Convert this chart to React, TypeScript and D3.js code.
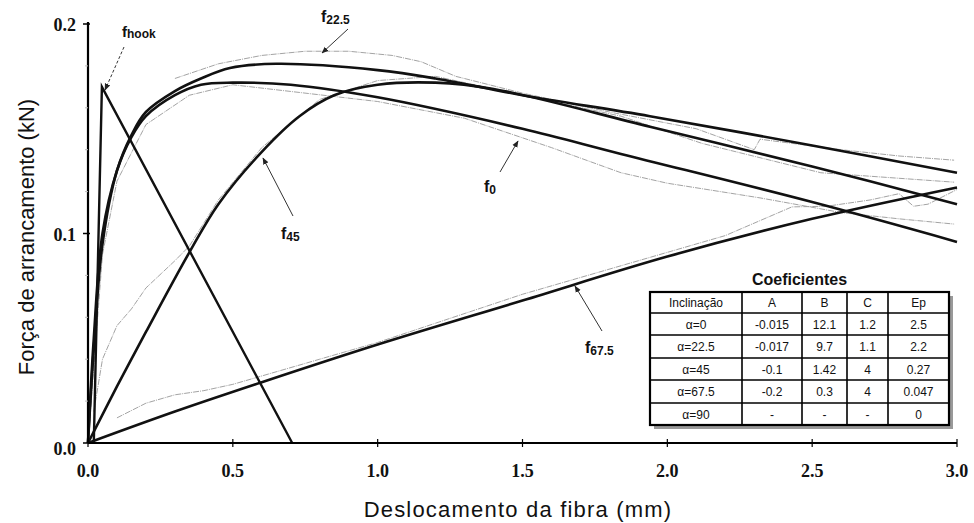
import React from "react";
import * as d3 from "d3";

const xTicks = [0, 0.5, 1.0, 1.5, 2.0, 2.5, 3.0];
const yTicks = [0, 0.1, 0.2];
const yMinorTicks = [0.02, 0.04, 0.06, 0.08, 0.12, 0.14, 0.16, 0.18];

// fitted curves [x (mm), F (kN)]
const fit0: [number, number][] = [
  [0, 0], [0.02, 0.05], [0.05, 0.1], [0.1, 0.13], [0.15, 0.146], [0.2, 0.156], [0.3, 0.166],
  [0.39, 0.171], [0.5, 0.172], [0.7, 0.171], [1.0, 0.165], [1.5, 0.15], [1.84, 0.138],
  [2.5, 0.115], [3.0, 0.096],
];
const fit225: [number, number][] = [
  [0, 0], [0.02, 0.045], [0.05, 0.095], [0.1, 0.13], [0.15, 0.147], [0.2, 0.158], [0.3, 0.168],
  [0.39, 0.174], [0.49, 0.179], [0.65, 0.181], [1.0, 0.178], [1.2, 0.174], [1.5, 0.166],
  [1.94, 0.156], [2.5, 0.142], [3.0, 0.129],
];
const fit45: [number, number][] = [
  [0, 0], [0.1, 0.027], [0.2, 0.053], [0.35, 0.091], [0.45, 0.114], [0.6, 0.139],
  [0.73, 0.156], [0.85, 0.166], [1.0, 0.171], [1.2, 0.172], [1.4, 0.169], [1.94, 0.151],
  [2.5, 0.132], [3.0, 0.114],
];
const fit675: [number, number][] = [
  [0, 0], [0.3, 0.015], [0.6, 0.029], [1.0, 0.047], [1.5, 0.068], [2.0, 0.089],
  [2.5, 0.107], [3.0, 0.122],
];
const fitHook: [number, number][] = [[0.02, 0], [0.048, 0.17], [0.705, 0]];

// experimental (thin grey) curves
const exp0: [number, number][] = [
  [0, 0], [0.05, 0.09], [0.1, 0.125], [0.2, 0.152], [0.35, 0.166], [0.5, 0.171], [1.0, 0.163],
  [1.3, 0.155], [1.45, 0.148], [1.6, 0.141], [1.84, 0.129], [2.0, 0.124], [2.32, 0.117],
  [2.6, 0.11], [2.8, 0.107], [2.99, 0.1045],
];
const exp225: [number, number][] = [
  [0.3, 0.174], [0.45, 0.181], [0.6, 0.185], [0.75, 0.187], [0.9, 0.187], [1.05, 0.185],
  [1.15, 0.182], [1.27, 0.175], [1.5, 0.167], [1.8, 0.158], [2.1, 0.15], [2.3, 0.14],
  [2.32, 0.145], [2.6, 0.14], [2.8, 0.137], [2.99, 0.135],
];
const exp45: [number, number][] = [
  [0.02, 0.015], [0.05, 0.04], [0.1, 0.056], [0.15, 0.064], [0.2, 0.074], [0.3, 0.087],
  [0.35, 0.094], [0.45, 0.116], [0.6, 0.141], [0.8, 0.164], [1.0, 0.173], [1.2, 0.175],
  [1.5, 0.166], [1.84, 0.156], [2.12, 0.143], [2.53, 0.129], [2.99, 0.1245],
];
const exp675: [number, number][] = [
  [0.1, 0.012], [0.2, 0.019], [0.3, 0.023], [0.4, 0.025], [0.5, 0.028], [0.8, 0.04],
  [1.0, 0.048], [1.5, 0.071], [2.0, 0.091], [2.2, 0.099], [2.43, 0.1127], [2.55, 0.113],
  [2.7, 0.116], [2.8, 0.119], [2.85, 0.113], [2.9, 0.114], [3.0, 0.121],
];

const tableTitle = "Coeficientes";
const tableHeader = ["Inclinação", "A", "B", "C", "Ep"];
const tableInclination = ["α=0", "α=22.5", "α=45", "α=67.5", "α=90"];
const colA = ["-0.015", "-0.017", "-0.1", "-0.2", "-"];
const colB = ["12.1", "9.7", "1.42", "0.3", "-"];
const colC = ["1.2", "1.1", "4", "4", "-"];
const colEp = ["2.5", "2.2", "0.27", "0.047", "0"];

const W = 974;
const H = 523;
const x = d3.scaleLinear().domain([0, 3]).range([88, 957]);
const y = d3.scaleLinear().domain([0, 0.2]).range([443, 24]);

const fitLine = d3.line<[number, number]>().x((d) => x(d[0])).y((d) => y(d[1])).curve(d3.curveCatmullRom.alpha(0.5));
const rawLine = d3.line<[number, number]>().x((d) => x(d[0])).y((d) => y(d[1])).curve(d3.curveLinear);

const sans = "'Liberation Sans', Arial, sans-serif";
const serif = "'Liberation Serif', 'Times New Roman', serif";

function Label({ x0, y0, sub }: { x0: number; y0: number; sub: string }) {
  return (
    <text x={x0} y={y0} fontFamily={sans} fontWeight="bold" fill="#111">
      <tspan fontSize={16}>f</tspan>
      <tspan fontSize={12} dy={2}>{sub}</tspan>
    </text>
  );
}

export default function App() {
  const colX = [650, 742, 802, 847, 888, 949];
  const rowY = [292, 313, 335, 358, 380, 403, 425];
  const cols = [tableInclination, colA, colB, colC, colEp];
  return (
    <svg width={W} height={H} style={{ display: "block", position: "absolute", left: 0, top: 0, background: "#fff" }}>
      <defs>
        <marker id="arr" viewBox="0 0 10 10" refX="9" refY="5" markerWidth="7" markerHeight="7" orient="auto">
          <path d="M0,1 L10,5 L0,9 z" fill="#222" />
        </marker>
      </defs>
      {/* experimental curves */}
      {[exp0, exp225, exp45, exp675].map((d, i) => (
        <path key={"e" + i} d={rawLine(d) || ""} fill="none" stroke="#999" strokeWidth={0.9} strokeDasharray="6,1,1,1" />
      ))}
      {/* fits */}
      {[fit0, fit225, fit45, fit675].map((d, i) => (
        <path key={"f" + i} d={fitLine(d) || ""} fill="none" stroke="#111" strokeWidth={2.6} />
      ))}
      <path d={rawLine(fitHook) || ""} fill="none" stroke="#111" strokeWidth={2.4} />

      {/* axes */}
      <line x1={x(0)} x2={x(0)} y1={y(0.2) - 2} y2={y(0)} stroke="#000" strokeWidth={2.2} />
      <line x1={x(0)} x2={x(3)} y1={y(0)} y2={y(0)} stroke="#000" strokeWidth={2.2} />
      {yTicks.map((t) => (
        <g key={"yt" + t}>
          <line x1={x(0) - 5} x2={x(0) + 2} y1={y(t)} y2={y(t)} stroke="#000" strokeWidth={1.5} />
          <text x={76} y={y(t) + (t === 0 ? 12 : 7)} textAnchor="end" fontFamily={serif} fontWeight="bold" fontSize={18} fill="#111">
            {t.toFixed(1)}
          </text>
        </g>
      ))}
      {yMinorTicks.map((t) => (
        <line key={"ym" + t} x1={x(0) - 3} x2={x(0)} y1={y(t)} y2={y(t)} stroke="#bbb" strokeWidth={1} />
      ))}
      {xTicks.map((t) => (
        <g key={"xt" + t}>
          <line x1={x(t)} x2={x(t)} y1={y(0) - 4} y2={y(0) + 4} stroke="#000" strokeWidth={1.2} />
          <text x={x(t)} y={477} textAnchor="middle" fontFamily={serif} fontWeight="bold" fontSize={18} fill="#111">
            {t.toFixed(1)}
          </text>
        </g>
      ))}
      <text x={518} y={517} textAnchor="middle" fontFamily={sans} fontSize={22} letterSpacing={1.2} fill="#111">
        Deslocamento da fibra (mm)
      </text>
      <text transform={`translate(34,237) rotate(-90)`} textAnchor="middle" fontFamily={sans} fontSize={22} fill="#111">
        Força de arrancamento (kN)
      </text>

      {/* annotations */}
      <text x={122} y={37} fontFamily={sans} fontWeight="bold" fill="#111">
        <tspan fontSize={15}>f</tspan>
        <tspan fontSize={12} dy={1}>hook</tspan>
      </text>
      <line x1={124} y1={47} x2={105} y2={90} stroke="#333" strokeWidth={1} strokeDasharray="3,2" markerEnd="url(#arr)" />
      <Label x0={321} y0={22} sub="22.5" />
      <line x1={348} y1={29} x2={322} y2={53} stroke="#333" strokeWidth={1} markerEnd="url(#arr)" />
      <Label x0={484} y0={192} sub="0" />
      <line x1={500} y1={172} x2={518} y2={141} stroke="#333" strokeWidth={1} markerEnd="url(#arr)" />
      <Label x0={281} y0={239} sub="45" />
      <line x1={293} y1={216} x2={263} y2={158} stroke="#333" strokeWidth={1} markerEnd="url(#arr)" />
      <Label x0={585} y0={353} sub="67.5" />
      <line x1={602} y1={331} x2={575} y2={286} stroke="#333" strokeWidth={1} markerEnd="url(#arr)" />

      {/* table */}
      <text x={(colX[0] + colX[5]) / 2} y={285} textAnchor="middle" fontFamily={sans} fontWeight="bold" fontSize={16} fill="#111">
        {tableTitle}
      </text>
      <rect x={colX[0] + 4} y={rowY[0] + 4} width={colX[5] - colX[0]} height={rowY[6] - rowY[0]} fill="#999" />
      <rect x={colX[0]} y={rowY[0]} width={colX[5] - colX[0]} height={rowY[6] - rowY[0]} fill="#fff" stroke="#000" strokeWidth={2.2} />
      {colX.slice(1, 5).map((cx, i) => (
        <line key={"cx" + i} x1={cx} x2={cx} y1={rowY[0]} y2={rowY[6]} stroke="#000" strokeWidth={1.6} />
      ))}
      {rowY.slice(1, 6).map((ry, i) => (
        <line key={"ry" + i} x1={colX[0]} x2={colX[5]} y1={ry} y2={ry} stroke="#000" strokeWidth={1.6} />
      ))}
      {tableHeader.map((h, c) => (
        <text key={"h" + c} x={(colX[c] + colX[c + 1]) / 2} y={(rowY[0] + rowY[1]) / 2 + 4.5} textAnchor="middle" fontFamily={sans} fontSize={12} fill="#111">
          {h}
        </text>
      ))}
      {cols.map((col, c) =>
        col.map((v, r) => (
          <text key={"c" + c + "r" + r} x={(colX[c] + colX[c + 1]) / 2} y={(rowY[r + 1] + rowY[r + 2]) / 2 + 4.5} textAnchor="middle" fontFamily={sans} fontSize={12} fill="#111">
            {v}
          </text>
        ))
      )}
    </svg>
  );
}
